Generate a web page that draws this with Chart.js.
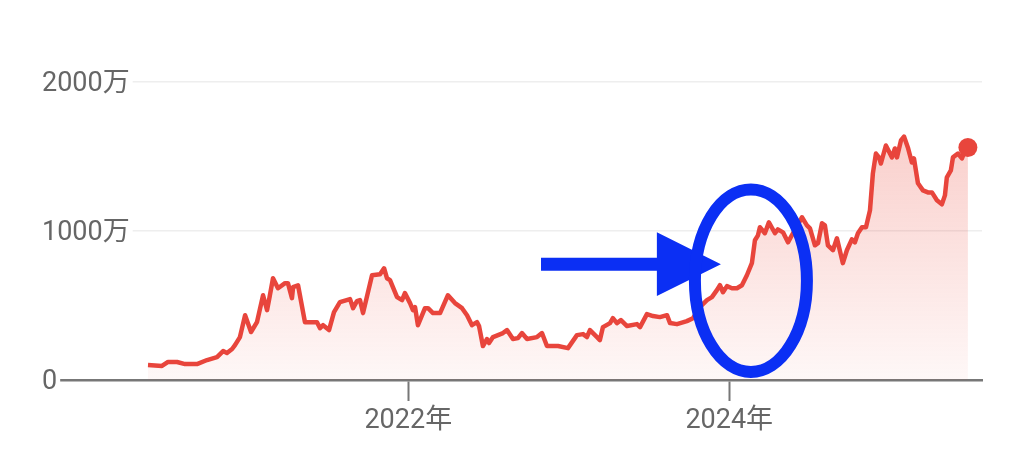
<!DOCTYPE html>
<html lang="ja">
<head>
<meta charset="utf-8">
<title>BTC/JPY</title>
<script src="https://cdn.jsdelivr.net/npm/chart.js@4.4.1/dist/chart.umd.min.js"></script>
<style>
  html, body { margin: 0; padding: 0; background: #fff; }
  #wrap { width: 1024px; height: 450px; position: relative; }
</style>
</head>
<body>
<div id="wrap"><canvas id="chart"></canvas></div>
<script>
// price history, x in decimal years, y in 万円
const dates = [
  2020.378, 2020.465, 2020.503, 2020.559, 2020.609, 2020.683, 2020.746, 2020.808, 2020.846, 2020.870,
  2020.902, 2020.920, 2020.951, 2020.983, 2021.020, 2021.057, 2021.095, 2021.120, 2021.132, 2021.157,
  2021.188, 2021.232, 2021.250, 2021.275, 2021.282, 2021.313, 2021.356, 2021.400, 2021.431, 2021.450,
  2021.469, 2021.506, 2021.537, 2021.574, 2021.637, 2021.656, 2021.680, 2021.699, 2021.718, 2021.774,
  2021.824, 2021.849, 2021.867, 2021.886, 2021.930, 2021.961, 2021.979, 2022.011, 2022.029, 2022.042,
  2022.060, 2022.104, 2022.123, 2022.154, 2022.198, 2022.247, 2022.291, 2022.335, 2022.366, 2022.397,
  2022.428, 2022.441, 2022.465, 2022.490, 2022.503, 2022.528, 2022.590, 2022.615, 2022.652, 2022.683,
  2022.708, 2022.740, 2022.802, 2022.833, 2022.864, 2022.933, 2022.995, 2023.051, 2023.089, 2023.113,
  2023.132, 2023.176, 2023.194, 2023.213, 2023.257, 2023.275, 2023.300, 2023.325, 2023.363, 2023.425,
  2023.444, 2023.487, 2023.525, 2023.568, 2023.612, 2023.631, 2023.674, 2023.736, 2023.774, 2023.817,
  2023.861, 2023.892, 2023.923, 2023.942, 2023.961, 2023.986, 2024.017, 2024.048, 2024.079, 2024.110,
  2024.141, 2024.160, 2024.179, 2024.191, 2024.222, 2024.247, 2024.285, 2024.303, 2024.335, 2024.366,
  2024.397, 2024.453, 2024.484, 2024.503, 2024.534, 2024.553, 2024.578, 2024.596, 2024.615, 2024.646,
  2024.671, 2024.708, 2024.733, 2024.764, 2024.783, 2024.802, 2024.827, 2024.852, 2024.877, 2024.895,
  2024.914, 2024.933, 2024.945, 2024.976, 2025.014, 2025.032, 2025.045, 2025.070, 2025.089, 2025.113,
  2025.138, 2025.151, 2025.176, 2025.207, 2025.238, 2025.263, 2025.294, 2025.325, 2025.344, 2025.356,
  2025.381, 2025.394, 2025.425, 2025.450, 2025.462, 2025.487
];
const prices = [
  100, 94, 121, 121, 107, 107, 134, 154, 194, 181,
  208, 234, 288, 435, 322, 388, 569, 469, 536, 683,
  616, 650, 650, 549, 623, 636, 388, 388, 388, 348,
  368, 335, 455, 522, 543, 482, 529, 536, 449, 703,
  710, 750, 683, 670, 556, 536, 583, 516, 469, 489,
  368, 482, 482, 449, 449, 569, 516, 482, 435, 368,
  388, 362, 228, 275, 248, 288, 315, 335, 275, 281,
  315, 275, 288, 315, 228, 228, 214, 301, 308, 288,
  335, 288, 268, 355, 382, 415, 382, 402, 362, 375,
  355, 442, 429, 422, 435, 382, 375, 395, 415, 489,
  536, 556, 603, 636, 589, 630, 616, 616, 636, 703,
  784, 938, 971, 1025, 985, 1058, 985, 1011, 991, 924,
  985, 1092, 1038, 1018, 904, 918, 1052, 1038, 904, 871,
  951, 784, 871, 944, 924, 985, 1025, 1025, 1139, 1386,
  1520, 1494, 1453, 1574, 1494, 1554, 1494, 1608, 1634, 1561,
  1460, 1487, 1320, 1273, 1259, 1259, 1206, 1179, 1239, 1360,
  1407, 1494, 1520, 1487, 1520, 1561
];
const yTicks = [0, 1000, 2000];
const xTicks = [2022, 2024];
const yUnit = '万';
const xUnit = '年';

const RED = '#e8453c';
const BLUE = '#0b2ff4';
const TEXT = '#666666';
const FONT = 'Roboto, "Noto Sans CJK JP", sans-serif';

// hand-drawn markup on top of the chart, placed in data units
const arrow = { from: 2022.827, headBase: 2023.549, tip: 2023.948, y: 777, halfHead: 214, halfShaft: 44 };
const ring = { x0: 2023.786, x1: 2024.484, y0: 54, y1: 1279, width: 12 };

const markup = {
  id: 'markup',
  afterDraw(chart) {
    const { ctx, scales: { x, y } } = chart;
    const px = (v) => x.getPixelForValue(v);
    const dy = (v) => y.getPixelForValue(0) - y.getPixelForValue(v);
    const yc = y.getPixelForValue(arrow.y);
    const hs = dy(arrow.halfShaft);
    const hh = dy(arrow.halfHead);

    ctx.save();
    ctx.fillStyle = BLUE;
    ctx.beginPath();
    ctx.moveTo(px(arrow.from), yc - hs);
    ctx.lineTo(px(arrow.headBase), yc - hs);
    ctx.lineTo(px(arrow.headBase), yc - hh);
    ctx.lineTo(px(arrow.tip), yc);
    ctx.lineTo(px(arrow.headBase), yc + hh);
    ctx.lineTo(px(arrow.headBase), yc + hs);
    ctx.lineTo(px(arrow.from), yc + hs);
    ctx.closePath();
    ctx.fill();

    const l = px(ring.x0), r = px(ring.x1);
    const t = y.getPixelForValue(ring.y1), b = y.getPixelForValue(ring.y0);
    ctx.strokeStyle = BLUE;
    ctx.lineWidth = ring.width;
    ctx.beginPath();
    ctx.ellipse((l + r) / 2, (t + b) / 2, (r - l) / 2, (b - t) / 2, 0, 0, Math.PI * 2);
    ctx.stroke();
    ctx.restore();
  }
};

const last = prices.length - 1;

new Chart(document.getElementById('chart'), {
  type: 'line',
  data: {
    datasets: [{
      data: dates.map((d, i) => ({ x: d, y: prices[i] })),
      borderColor: RED,
      borderWidth: 4.5,
      borderJoinStyle: 'round',
      tension: 0,
      pointRadius: (c) => (c.dataIndex === last ? 9.5 : 0),
      pointHoverRadius: 0,
      pointBackgroundColor: RED,
      pointBorderWidth: 0,
      fill: 'origin',
      backgroundColor: (c) => {
        const area = c.chart.chartArea;
        if (!area) return 'rgba(234,67,53,0.1)';
        const g = c.chart.ctx.createLinearGradient(0, area.top, 0, area.bottom);
        g.addColorStop(0, 'rgba(234,67,53,0.30)');
        g.addColorStop(1, 'rgba(234,67,53,0.04)');
        return g;
      },
    }],
  },
  options: {
    responsive: true,
    maintainAspectRatio: false,
    animation: false,
    events: [],
    layout: { padding: { top: 82, left: 40, right: 42, bottom: 0 } },
    plugins: { legend: { display: false }, tooltip: { enabled: false } },
    scales: {
      x: {
        type: 'linear',
        min: 2019.705,
        max: 2025.575,
        afterBuildTicks: (s) => { s.ticks = xTicks.map((v) => ({ value: v })); },
        afterFit: (s) => { s.height = 70; },
        grid: { drawOnChartArea: false, drawTicks: true, tickLength: 21, tickColor: '#777', tickWidth: 2 },
        border: { display: true, color: '#777', width: 2.5 },
        ticks: {
          autoSkip: false,
          maxRotation: 0,
          padding: 4,
          color: TEXT,
          font: { family: FONT, size: 27 },
          callback: (v) => v + xUnit,
        },
      },
      y: {
        min: 0,
        max: 2000,
        afterBuildTicks: (s) => { s.ticks = yTicks.map((v) => ({ value: v })); },
        afterFit: (s) => { s.width = 0; },
        grid: {
          drawTicks: false,
          lineWidth: 1.5,
          color: (c) => (c.tick && c.tick.value === 0 ? 'rgba(0,0,0,0)' : '#eeeeee'),
        },
        border: { display: false },
        ticks: {
          mirror: true,
          padding: 2,
          labelOffset: 2,
          z: 1,
          showLabelBackdrop: true,
          backdropColor: '#ffffff',
          backdropPadding: { left: 4, right: 3, top: 4, bottom: 4 },
          color: TEXT,
          font: { family: FONT, size: 27 },
          callback: (v) => (v === 0 ? '0' : v + yUnit),
        },
      },
    },
  },
  plugins: [markup],
});
</script>
</body>
</html>
